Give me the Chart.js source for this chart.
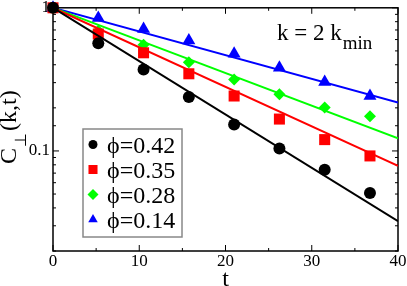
<!DOCTYPE html>
<html lang="en">
<head>
  <meta charset="UTF-8">
  <title>C(k,t) decay</title>
  <style>
    html, body { margin: 0; padding: 0; background: #fff; }
    #wrap { width: 407px; height: 286px; position: relative; }
  </style>
</head>
<body>
<div id="wrap"><canvas id="corrChart"></canvas></div>

<script src="https://cdn.jsdelivr.net/npm/chart.js"></script>
<script>
  // data
  const times = [0, 5.25, 10.5, 15.75, 21, 26.25, 31.5, 36.75];
  const phiLabels = ['ϕ=0.42', 'ϕ=0.35', 'ϕ=0.28', 'ϕ=0.14'];
  const phi042 = [1, 0.565, 0.371, 0.238, 0.153, 0.104, 0.0738, 0.0508];
  const phi035 = [1, 0.656, 0.485, 0.346, 0.242, 0.167, 0.120, 0.0923];
  const phi028 = [1, 0.692, 0.553, 0.417, 0.316, 0.249, 0.201, 0.175];
  const phi014 = [1, 0.848, 0.711, 0.590, 0.477, 0.381, 0.303, 0.242];
  // exponential fits: value at t=0 and t=40
  const fitTimes = [0, 40];
  const fit042 = [1, 0.0323];
  const fit035 = [1, 0.0787];
  const fit028 = [1, 0.1225];
  const fit014 = [1, 0.218];
  const yTickLabels = [0.1, 1];

  const serif = "'Liberation Serif', 'Times New Roman', serif";
  const colors = ['#000000', '#ff0000', '#00ff00', '#0000ff'];
  const styles = ['circle', 'rect', 'rectRot', 'triangle'];
  const radii = [6, 7.8, 6, 7.5];
  const series = [phi042, phi035, phi028, phi014];
  const fits = [fit042, fit035, fit028, fit014];

  const pts = (xs, ys) => xs.map((t, i) => ({ x: t, y: ys[i] }));

  const datasets = [];
  series.forEach((s, i) => {
    datasets.push({
      label: phiLabels[i] + ' fit',
      data: pts(fitTimes, fits[i]),
      showLine: true,
      borderColor: colors[i],
      borderWidth: 2,
      pointRadius: 0
    });
    datasets.push({
      label: phiLabels[i],
      data: pts(times, s),
      showLine: false,
      backgroundColor: colors[i],
      pointStyle: styles[i],
      pointRadius: radii[i],
      pointBorderWidth: 0,
      clip: false
    });
  });

  // box, inward ticks, titles, legend, annotation
  const decorPlugin = {
    id: 'decor',
    beforeDatasetsDraw(chart) {
      const { ctx, chartArea: a, scales: { x, y } } = chart;
      ctx.save();
      ctx.strokeStyle = '#000';
      ctx.lineWidth = 1.5;
      ctx.strokeRect(a.left, a.top, a.right - a.left, a.bottom - a.top);
      ctx.lineWidth = 1;
      ctx.beginPath();
      x.ticks.forEach(t => {
        const px = x.getPixelForValue(t.value);
        const len = t.value % 10 === 0 ? 6 : 3;
        ctx.moveTo(px, a.bottom); ctx.lineTo(px, a.bottom - len);
        ctx.moveTo(px, a.top); ctx.lineTo(px, a.top + len);
      });
      y.ticks.forEach(t => {
        const py = y.getPixelForValue(t.value);
        const lg = Math.log10(t.value);
        const len = Math.abs(lg - Math.round(lg)) < 1e-6 ? 6 : 3;
        ctx.moveTo(a.left, py); ctx.lineTo(a.left + len, py);
        ctx.moveTo(a.right, py); ctx.lineTo(a.right - len, py);
      });
      ctx.stroke();
      ctx.restore();
    },
    afterDraw(chart) {
      const { ctx, chartArea: a } = chart;
      ctx.save();
      ctx.fillStyle = '#000';
      ctx.textBaseline = 'alphabetic';

      // x title
      ctx.font = '24px ' + serif;
      ctx.textAlign = 'center';
      ctx.fillText('t', (a.left + a.right) / 2, 286);

      // y title C⊥(k,t)
      ctx.save();
      ctx.translate(16, 164);
      ctx.rotate(-Math.PI / 2);
      ctx.textAlign = 'left';
      ctx.font = '24px ' + serif;
      ctx.fillText('C', 0, 0);
      const cw = ctx.measureText('C').width;
      ctx.font = '16px ' + serif;
      ctx.fillText('⊥', cw + 1, 10);
      const pw = ctx.measureText('⊥').width;
      ctx.font = '24px ' + serif;
      ctx.fillText('(k,t)', cw + pw + 3, 0);
      ctx.restore();

      // annotation k = 2 k_min
      ctx.textAlign = 'left';
      ctx.font = '23px ' + serif;
      ctx.fillText('k = 2 k', 277, 40);
      const kw = ctx.measureText('k = 2 k').width;
      ctx.font = '19px ' + serif;
      ctx.fillText('min', 277 + kw + 1, 49);

      // legend box
      ctx.fillStyle = '#fff';
      ctx.fillRect(83, 129, 99, 108);
      ctx.strokeStyle = '#888';
      ctx.lineWidth = 1.5;
      ctx.strokeRect(83, 129, 99, 108);
      const legRadii = [4.5, 6.4, 5.5, 5.5];
      phiLabels.forEach((lab, i) => {
        const ly = 144.5 + i * 25;
        ctx.fillStyle = colors[i];
        Chart.helpers.drawPoint(ctx, { pointStyle: styles[i], radius: legRadii[i], rotation: 0, borderWidth: 0 }, 93, ly);
        ctx.fillStyle = '#000';
        ctx.font = '24px ' + serif;
        ctx.fillText(lab, 107, ly + 8);
      });
      ctx.restore();
    }
  };

  const ctx = document.getElementById('corrChart').getContext('2d');
  const chart = new Chart(ctx, {
    type: 'scatter',
    data: { datasets: datasets },
    options: {
      responsive: true,
      maintainAspectRatio: false,
      animation: false,
      layout: { padding: { top: 7, right: 9, left: 0, bottom: 0 } },
      plugins: {
        legend: { display: false },
        tooltip: { enabled: false }
      },
      scales: {
        x: {
          type: 'linear',
          min: 0,
          max: 40,
          grid: { display: false, drawTicks: false },
          border: { display: false },
          ticks: {
            stepSize: 5,
            autoSkip: false,
            maxRotation: 0,
            padding: 0,
            color: '#000',
            font: { family: serif, size: 17 },
            callback: v => (v % 10 === 0 ? String(v) : '')
          },
          afterFit(scale) {
            scale.height = 35;
            scale.paddingLeft = 0;
            scale.paddingRight = 0;
          }
        },
        y: {
          type: 'logarithmic',
          min: 0.02,
          max: 1,
          grid: { display: false, drawTicks: false },
          border: { display: false },
          ticks: {
            autoSkip: false,
            padding: 3,
            color: '#000',
            font: { family: serif, size: 17 },
            callback: v => (yTickLabels.some(l => Math.abs(l - v) < 1e-9) ? String(v) : '')
          },
          afterFit(scale) {
            scale.width = 53;
            scale.paddingTop = 0;
            scale.paddingBottom = 0;
          }
        }
      }
    },
    plugins: [decorPlugin]
  });
</script>

</body>
</html>
